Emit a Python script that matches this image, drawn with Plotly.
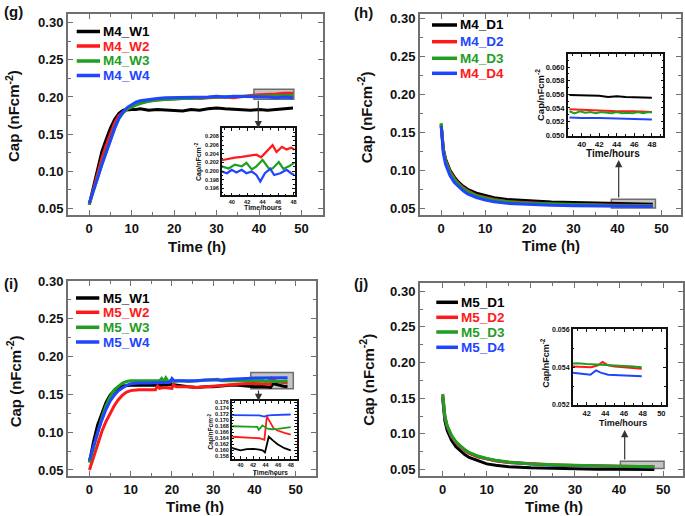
import plotly.graph_objects as go

FONT = "Liberation Sans, Arial, Helvetica, sans-serif"
BLACK = "#000000"
RED = "#ff1a1a"
GREEN = "#1f9e1f"
BLUE = "#1f45ff"

# ---------------- (g) main: M4_W1..W4 ----------------
g_t = [0, 1, 2, 3, 4, 5, 6, 7, 8, 9, 10, 11, 12, 13, 14, 16, 18, 20, 22, 24, 26, 28, 30, 32, 34, 36, 38, 40, 42, 44, 46, 48]
g_w1 = [0.055, 0.079, 0.104, 0.127, 0.143, 0.158, 0.170, 0.178, 0.182, 0.183, 0.183, 0.183, 0.184, 0.183, 0.182, 0.183, 0.182, 0.182, 0.181, 0.183, 0.182, 0.184, 0.185, 0.184, 0.183, 0.183, 0.182, 0.183, 0.182, 0.183, 0.184, 0.185]
g_w2 = [0.055, 0.076, 0.099, 0.118, 0.135, 0.151, 0.165, 0.175, 0.180, 0.184, 0.187, 0.190, 0.192, 0.194, 0.195, 0.196, 0.197, 0.198, 0.198, 0.199, 0.198, 0.199, 0.200, 0.200, 0.199, 0.201, 0.202, 0.203, 0.203, 0.204, 0.205, 0.205]
g_w3 = [0.055, 0.072, 0.092, 0.110, 0.127, 0.142, 0.158, 0.171, 0.179, 0.184, 0.187, 0.189, 0.191, 0.193, 0.194, 0.196, 0.197, 0.198, 0.198, 0.198, 0.199, 0.199, 0.200, 0.200, 0.201, 0.201, 0.201, 0.201, 0.202, 0.202, 0.201, 0.202]
g_w4 = [0.057, 0.073, 0.091, 0.109, 0.126, 0.142, 0.158, 0.171, 0.180, 0.186, 0.190, 0.193, 0.195, 0.196, 0.197, 0.198, 0.199, 0.199, 0.200, 0.200, 0.200, 0.200, 0.201, 0.200, 0.201, 0.201, 0.200, 0.200, 0.200, 0.199, 0.200, 0.199]

# (g) inset
gi_w2_t = [38.7, 39.5, 40.4, 41.3, 42.2, 43.2, 43.8, 44.5, 45.3, 45.8, 46.5, 47.1, 47.7, 48.1]
gi_w2 = [0.2025, 0.2028, 0.2031, 0.2033, 0.2036, 0.2038, 0.2032, 0.2046, 0.2060, 0.2044, 0.2056, 0.2050, 0.2054, 0.2050]
gi_w3_t = [38.7, 39.6, 40.4, 41.3, 41.9, 42.6, 43.2, 44.0, 44.8, 45.3, 46.1, 46.7, 47.4, 48.1]
gi_w3 = [0.2011, 0.2006, 0.2015, 0.2011, 0.2019, 0.2004, 0.2011, 0.2026, 0.2006, 0.2006, 0.2021, 0.2005, 0.2011, 0.2019]
gi_w4_t = [38.7, 39.4, 40.0, 40.6, 41.3, 41.9, 42.6, 43.2, 43.7, 44.3, 45.0, 45.5, 46.3, 47.1, 47.7, 48.1]
gi_w4 = [0.1999, 0.1995, 0.2003, 0.1997, 0.2003, 0.1995, 0.1999, 0.1991, 0.1976, 0.1995, 0.2005, 0.1991, 0.1995, 0.2003, 0.1995, 0.1991]

# ---------------- (h) main: M4_D1..D4 ----------------
h_t = [0, 0.25, 0.5, 1, 1.5, 2, 3, 4, 5, 6, 8, 10, 12, 15, 20, 25, 30, 35, 40, 44, 48]
h_d1 = [0.160, 0.140, 0.128, 0.115, 0.106, 0.100, 0.091, 0.084, 0.079, 0.075, 0.070, 0.0665, 0.064, 0.0615, 0.0595, 0.0583, 0.0575, 0.0568, 0.0560, 0.0557, 0.0555]
h_d2 = [0.160, 0.138, 0.126, 0.113, 0.104, 0.098, 0.089, 0.082, 0.077, 0.073, 0.067, 0.064, 0.0615, 0.059, 0.057, 0.0558, 0.0551, 0.0545, 0.0539, 0.0537, 0.0535]
h_d3 = [0.162, 0.139, 0.126, 0.112, 0.103, 0.097, 0.088, 0.081, 0.076, 0.072, 0.0665, 0.0632, 0.061, 0.0585, 0.0565, 0.0555, 0.0548, 0.0542, 0.0535, 0.0534, 0.0533]
h_d4 = [0.158, 0.135, 0.122, 0.108, 0.099, 0.093, 0.084, 0.078, 0.073, 0.069, 0.064, 0.061, 0.0585, 0.0565, 0.0548, 0.054, 0.0535, 0.0531, 0.0527, 0.0525, 0.0523]

# (h) inset
hi_d1_t = [38.6, 40, 41, 42, 43, 43.5, 44, 45, 46, 47, 48]
hi_d1 = [0.0559, 0.0559, 0.0558, 0.0558, 0.0556, 0.0557, 0.0557, 0.0556, 0.0556, 0.0555, 0.0555]
hi_d2_t = [38.6, 40, 42, 44, 46, 48]
hi_d2 = [0.0538, 0.0537, 0.0536, 0.0535, 0.0535, 0.0534]
hi_d3_t = [38.6, 39.2, 39.8, 40.4, 41, 41.6, 42.2, 42.8, 43.4, 44, 44.6, 45.2, 45.8, 46.4, 47, 47.6, 48]
hi_d3 = [0.0535, 0.0532, 0.0535, 0.0533, 0.0534, 0.0532, 0.0534, 0.0533, 0.0532, 0.0534, 0.0532, 0.0533, 0.0532, 0.0534, 0.0532, 0.0534, 0.0533]
hi_d4_t = [38.6, 40, 42, 44, 46, 48]
hi_d4 = [0.0526, 0.0525, 0.0525, 0.0524, 0.0523, 0.0523]

# ---------------- (i) main: M5_W1..W4 ----------------
i_w1_t = [0, 1, 2, 3, 4, 5, 6, 7, 8, 10, 12, 14, 16, 18, 20, 22, 24, 26, 28, 30, 32, 34, 36, 38, 40, 42, 43.5, 43.9, 44.5, 45.2, 46, 47, 48]
i_w1 = [0.060, 0.088, 0.110, 0.126, 0.139, 0.149, 0.155, 0.159, 0.161, 0.162, 0.162, 0.162, 0.162, 0.162, 0.163, 0.161, 0.160, 0.159, 0.160, 0.160, 0.161, 0.162, 0.162, 0.161, 0.160, 0.1605, 0.160, 0.1593, 0.1645, 0.1632, 0.1620, 0.1607, 0.1600]
i_w2_t = [0, 1, 2, 3, 4, 5, 6, 7, 8, 9, 10, 12, 14, 16, 16.5, 17, 18, 19, 20, 20.3, 21, 22, 24, 26, 28, 30, 32, 34, 36, 38, 40, 42, 43, 43.8, 44.2, 45.3, 46, 47, 48]
i_w2 = [0.050, 0.068, 0.085, 0.101, 0.114, 0.125, 0.135, 0.143, 0.149, 0.153, 0.155, 0.156, 0.156, 0.156, 0.161, 0.158, 0.159, 0.158, 0.158, 0.163, 0.160, 0.160, 0.160, 0.159, 0.160, 0.161, 0.162, 0.163, 0.164, 0.1645, 0.1643, 0.1641, 0.1640, 0.1635, 0.1713, 0.1672, 0.1665, 0.1658, 0.1652]
i_w3_t = [0, 1, 2, 3, 4, 5, 6, 7, 8, 9, 10, 12, 14, 16, 17, 17.5, 18, 18.5, 19, 20, 22, 24, 26, 28, 30, 31, 32, 34, 36, 38, 40, 42, 42.9, 43.5, 44.3, 45, 46, 47, 48]
i_w3 = [0.060, 0.080, 0.100, 0.119, 0.135, 0.147, 0.156, 0.161, 0.165, 0.167, 0.168, 0.168, 0.168, 0.167, 0.168, 0.171, 0.167, 0.172, 0.168, 0.167, 0.168, 0.167, 0.168, 0.168, 0.169, 0.170, 0.168, 0.168, 0.168, 0.168, 0.168, 0.168, 0.1668, 0.1683, 0.1672, 0.1670, 0.1671, 0.1673, 0.1677]
i_w4_t = [0, 1, 2, 3, 4, 5, 6, 7, 8, 9, 10, 12, 14, 16, 18, 19.5, 20, 20.5, 22, 24, 26, 28, 30, 32, 34, 36, 38, 40, 42, 43.8, 44.2, 46, 48]
i_w4 = [0.063, 0.082, 0.100, 0.116, 0.130, 0.141, 0.149, 0.155, 0.159, 0.162, 0.164, 0.165, 0.165, 0.165, 0.166, 0.166, 0.171, 0.168, 0.168, 0.168, 0.168, 0.169, 0.169, 0.169, 0.170, 0.170, 0.171, 0.1717, 0.1717, 0.1712, 0.1715, 0.1718, 0.1719]

# (i) inset
ii_w1_t = [38.7, 39.2, 40, 41, 42, 43, 43.5, 43.9, 44.5, 45.2, 45.9, 47, 48]
ii_w1 = [0.1607, 0.1605, 0.1600, 0.1604, 0.1605, 0.1602, 0.1600, 0.1593, 0.1645, 0.1632, 0.1620, 0.1607, 0.1600]
ii_w2_t = [38.7, 40, 41, 42, 43, 43.8, 44.2, 45.3, 46, 47, 48]
ii_w2 = [0.1645, 0.1643, 0.1642, 0.1641, 0.1640, 0.1635, 0.1713, 0.1672, 0.1665, 0.1658, 0.1652]
ii_w3_t = [38.7, 40, 41, 42, 42.7, 42.9, 43.5, 44.3, 45, 46, 47, 48]
ii_w3 = [0.1680, 0.1680, 0.1679, 0.1680, 0.1678, 0.1668, 0.1683, 0.1672, 0.1670, 0.1671, 0.1673, 0.1677]
ii_w4_t = [38.7, 40, 41, 42, 43, 43.8, 44.2, 45, 46, 47, 48]
ii_w4 = [0.1717, 0.1717, 0.1716, 0.1717, 0.1716, 0.1712, 0.1715, 0.1717, 0.1718, 0.1718, 0.1719]

# ---------------- (j) main: M5_D1..D4 ----------------
j_t = [0, 0.25, 0.5, 1, 1.5, 2, 3, 4, 5, 6, 8, 10, 12, 15, 20, 25, 30, 35, 40, 44, 48]
j_d1 = [0.150, 0.130, 0.118, 0.105, 0.097, 0.091, 0.082, 0.076, 0.071, 0.067, 0.062, 0.058, 0.056, 0.054, 0.0525, 0.0516, 0.051, 0.0506, 0.0503, 0.0501, 0.050]
j_d2 = [0.155, 0.136, 0.124, 0.111, 0.103, 0.097, 0.088, 0.082, 0.077, 0.073, 0.068, 0.065, 0.0625, 0.060, 0.058, 0.0568, 0.0558, 0.055, 0.0544, 0.0541, 0.0539]
j_d3 = [0.156, 0.137, 0.125, 0.112, 0.104, 0.098, 0.089, 0.083, 0.078, 0.074, 0.069, 0.0655, 0.063, 0.0605, 0.058, 0.0568, 0.0558, 0.0551, 0.0545, 0.0542, 0.054]
j_d4 = [0.152, 0.134, 0.122, 0.110, 0.102, 0.096, 0.088, 0.082, 0.077, 0.073, 0.068, 0.065, 0.0623, 0.0598, 0.0575, 0.0562, 0.0552, 0.0546, 0.054, 0.0537, 0.0536]

# (j) inset
ji_d2_t = [40.5, 41.5, 42.5, 43.2, 43.7, 44.3, 45, 46, 47, 47.9]
ji_d2 = [0.05404, 0.05402, 0.05400, 0.05410, 0.05427, 0.05410, 0.05404, 0.05400, 0.05396, 0.05392]
ji_d3_t = [40.5, 41, 42, 43, 44, 45, 46, 47, 47.9]
ji_d3 = [0.05419, 0.05420, 0.05416, 0.05414, 0.05410, 0.05408, 0.05406, 0.05404, 0.05400]
ji_d4_t = [40.5, 41.5, 42.4, 43.0, 43.5, 44.3, 45, 46.4, 47.9]
ji_d4 = [0.05371, 0.05367, 0.05360, 0.05383, 0.05371, 0.05360, 0.05358, 0.05353, 0.05352]

# inset x tick values
gi_xticks = [40, 42, 44, 46, 48]
hi_xticks = [40, 42, 44, 46, 48]
ii_xticks = [40, 42, 44, 46, 48]
ji_xticks = [42, 44, 46, 48, 50]

# legend labels
g_labels = ["M4_W1", "M4_W2", "M4_W3", "M4_W4"]
h_labels = ["M4_D1", "M4_D2", "M4_D3", "M4_D4"]
i_labels = ["M5_W1", "M5_W2", "M5_W3", "M5_W4"]
j_labels = ["M5_D1", "M5_D2", "M5_D3", "M5_D4"]
panel_tags = ["(g)", "(h)", "(i)", "(j)"]

W, H = 685, 516


def px(x):
    return x / W


def py(y):
    return 1 - y / H


fig = go.Figure()


def add(t, v, color, n, width):
    sfx = "" if n == 1 else str(n)
    fig.add_trace(go.Scatter(x=t, y=v, mode="lines",
                             line=dict(color=color, width=width),
                             xaxis="x" + sfx, yaxis="y" + sfx,
                             showlegend=False, hoverinfo="skip"))


# main traces
for v, c in [(g_w1, BLACK), (g_w2, RED), (g_w3, GREEN), (g_w4, BLUE)]:
    add(g_t, v, c, 1, 3)
for v, c in [(h_d1, BLACK), (h_d2, RED), (h_d3, GREEN), (h_d4, BLUE)]:
    add(h_t, v, c, 2, 3)
for t, v, c in [(i_w1_t, i_w1, BLACK), (i_w2_t, i_w2, RED), (i_w3_t, i_w3, GREEN), (i_w4_t, i_w4, BLUE)]:
    add(t, v, c, 3, 3)
for v, c in [(j_d1, BLACK), (j_d4, BLUE), (j_d2, RED), (j_d3, GREEN)]:
    add(j_t, v, c, 4, 3)

# inset traces
for t, v, c in [(gi_w2_t, gi_w2, RED), (gi_w3_t, gi_w3, GREEN), (gi_w4_t, gi_w4, BLUE)]:
    add(t, v, c, 5, 2.2)
for t, v, c in [(hi_d1_t, hi_d1, BLACK), (hi_d2_t, hi_d2, RED), (hi_d3_t, hi_d3, GREEN), (hi_d4_t, hi_d4, BLUE)]:
    add(t, v, c, 6, 2)
for t, v, c in [(ii_w1_t, ii_w1, BLACK), (ii_w2_t, ii_w2, RED), (ii_w3_t, ii_w3, GREEN), (ii_w4_t, ii_w4, BLUE)]:
    add(t, v, c, 7, 1.8)
for t, v, c in [(ji_d2_t, ji_d2, RED), (ji_d3_t, ji_d3, GREEN), (ji_d4_t, ji_d4, BLUE)]:
    add(t, v, c, 8, 2)

layout = dict(width=W, height=H, margin=dict(l=0, r=0, t=0, b=0, autoexpand=False),
              paper_bgcolor="white", plot_bgcolor="white", showlegend=False,
              font=dict(family=FONT, color="#111"))


def set_axes(n, xdom, ydom, xr, yr, xdt, ydt, xminor, yminor, yfmt,
             tsize_x, tsize_y, lcolor, lwidth, tlen, xticks=None):
    sfx = "" if n == 1 else str(n)
    common = dict(showline=True, linecolor=lcolor, linewidth=lwidth, mirror="ticks",
                  ticks="inside", ticklen=tlen, tickwidth=1.2, tickcolor=lcolor,
                  showgrid=False, zeroline=False)
    xa = dict(common, domain=xdom, range=xr, anchor="y" + sfx,
              minor=dict(dtick=xminor, tick0=0, ticks="inside",
                         ticklen=tlen * 0.6, tickcolor=lcolor, showgrid=False),
              tickfont=dict(family=FONT, size=tsize_x, weight="bold", color="#111"),
              ticklabeloverflow="allow")
    if xticks is not None:
        xa.update(tickmode="array", tickvals=xticks)
    else:
        xa.update(tick0=0, dtick=xdt)
    layout["xaxis" + sfx] = xa
    layout["yaxis" + sfx] = dict(common, domain=ydom, range=yr, anchor="x" + sfx,
                                 tick0=0, dtick=ydt, tickformat=yfmt,
                                 minor=dict(dtick=yminor, tick0=0, ticks="inside",
                                            ticklen=tlen * 0.6, tickcolor=lcolor, showgrid=False),
                                 tickfont=dict(family=FONT, size=tsize_y, weight="bold", color="#111"))


# main panels
set_axes(1, [px(68), px(322.7)], [py(215), py(14)], [-5, 55], [0.041, 0.3117], 10, 0.05, 5, 0.025, ".2f", 13, 13, "#707070", 2, 5)
set_axes(2, [px(420), px(681)], [py(215), py(14)], [-4.8, 54.4], [0.0412, 0.3057], 10, 0.05, 5, 0.025, ".2f", 13, 13, "#707070", 2, 5)
set_axes(3, [px(68), px(316)], [py(476), py(280.7)], [-5.2, 54.9], [0.042, 0.3005], 10, 0.05, 5, 0.025, ".2f", 13, 13, "#707070", 2, 5)
set_axes(4, [px(420), px(683)], [py(476), py(283)], [-5.15, 54.5], [0.041, 0.3116], 10, 0.05, 5, 0.025, ".2f", 13, 13, "#707070", 2, 5)
# insets
set_axes(5, [px(221.7), px(295)], [py(195.3), py(128.3)], [38.7, 48.2], [0.1944, 0.2099], 2, 0.002, 1, 0.001, ".3f", 5.5, 5.5, "#111111", 1.5, 3, gi_xticks)
set_axes(6, [px(567.7), px(663.3)], [py(135.7), py(54.3)], [38.4, 49.3], [0.0499, 0.0619], 2, 0.002, 1, 0.001, ".3f", 8, 7.5, "#111111", 1.5, 3, hi_xticks)
set_axes(7, [px(231.7), px(297)], [py(459), py(401)], [38.6, 49.0], [0.1571, 0.1764], 2, 0.002, 1, 0.001, ".3f", 5.5, 5.5, "#111111", 1.5, 3, ii_xticks)
set_axes(8, [px(572.7), px(666)], [py(405), py(329.3)], [40.5, 50.5], [0.052, 0.056], 2, 0.002, 1, 0.001, ".3f", 7.5, 7, "#111111", 1.5, 3, ji_xticks)

annotations = []
shapes = []


def text(x, y, s, size, color="#111", angle=0, xanchor="center"):
    annotations.append(dict(x=px(x), y=py(y), xref="paper", yref="paper", text=s,
                            showarrow=False, textangle=angle, xanchor=xanchor, yanchor="middle",
                            font=dict(family=FONT, size=size, color=color, weight="bold")))


# panel tags
text(2, 11, panel_tags[0], 15, xanchor="left")
text(352, 12.5, panel_tags[1], 15, xanchor="left")
text(2, 283.8, panel_tags[2], 15, xanchor="left")
text(352, 283, panel_tags[3], 15, xanchor="left")

# main axis titles
ytitle = "Cap (nFcm<sup>-2</sup>)"
text(13, 116, ytitle, 15, angle=-90)
text(365.3, 117, ytitle, 15, angle=-90)
text(13.3, 381, ytitle, 15, angle=-90)
text(367, 379.7, ytitle, 15, angle=-90)
text(197.3, 247, "Time (h)", 15)
text(551, 246, "Time (h)", 15)
text(195, 506.3, "Time (h)", 15)
text(553.7, 506.3, "Time (h)", 15)

# inset axis titles
it = "Cap/nFcm<sup>-2</sup>"
text(263.3, 207.5, "Time/hours", 7)
text(198, 162, it, 7, angle=-90)
text(612.7, 153.5, "Time/hours", 10)
text(540, 95, it, 9.5, angle=-90)
text(270, 472, "Time/hours", 6.5)
text(210.5, 432, it, 6.5, angle=-90)
text(622.7, 422.5, "Time/hours", 9)
text(545.5, 363.3, it, 9, angle=-90)


# legends (line samples + coloured labels)
def legend(x0, x1, xt, rows, labels, line_colors, text_colors):
    for yy, lab, lc, tc in zip(rows, labels, line_colors, text_colors):
        shapes.append(dict(type="line", xref="paper", yref="paper", x0=px(x0), x1=px(x1),
                           y0=py(yy), y1=py(yy), line=dict(color=lc, width=3.5)))
        text(xt, yy, lab, 13.5, color=tc, xanchor="left")


cols = [BLACK, RED, GREEN, BLUE]
legend(76.7, 100, 101, [31.5, 46, 61, 75.5], g_labels, cols, cols)
legend(432, 457, 458, [25, 41.7, 58.3, 73.3], h_labels, [BLACK, RED, GREEN, BLUE], [BLACK, BLUE, GREEN, RED])
legend(76, 99.3, 100.5, [298, 312.3, 327.3, 342], i_labels, cols, cols)
legend(436.3, 458, 459, [302.3, 317.3, 332, 347.3], j_labels, cols, cols)

# zoom boxes in main plots (data coordinates of the inset windows)
for n, x0, x1, y0, y1 in [(1, 38.8, 48.2, 0.1968, 0.2102), (2, 38.6, 48.6, 0.0505, 0.0618),
                          (3, 39.1, 49.4, 0.1574, 0.179), (4, 40.3, 50.2, 0.0514, 0.0618)]:
    sfx = "" if n == 1 else str(n)
    shapes.append(dict(type="rect", xref="x" + sfx, yref="y" + sfx, x0=x0, x1=x1, y0=y0, y1=y1,
                       fillcolor="#c4c4c4", line=dict(color="#6e6e6e", width=1.5), layer="below"))

# arrows from zoom boxes to insets
for xa, ytip, ay in [(258.3, 128.3, -29), (618.7, 160, 39), (258.5, 401, -12), (624.7, 430, 31)]:
    annotations.append(dict(x=px(xa), y=py(ytip), xref="paper", yref="paper", text="",
                            showarrow=True, ax=0, ay=ay, arrowhead=2, arrowsize=1.2,
                            arrowwidth=1.2, arrowcolor="#333333"))

layout["annotations"] = annotations
layout["shapes"] = shapes
fig.update_layout(**layout)
fig.write_html("out.html", config={"displayModeBar": False},
               post_script="document.body.style.margin='0';document.body.style.padding='0';")
